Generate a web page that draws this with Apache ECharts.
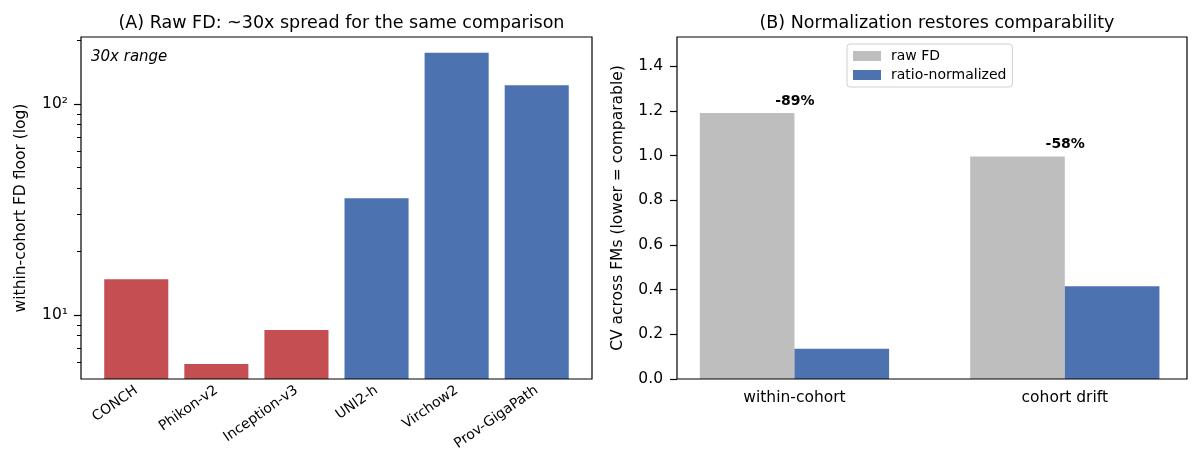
<!DOCTYPE html>
<html>
<head>
<meta charset="utf-8">
<script src="https://cdn.jsdelivr.net/npm/echarts@6/dist/echarts.min.js"></script>
<style>
  html, body { margin: 0; padding: 0; background: #fff; }
  #main { width: 1200px; height: 473px; }
</style>
</head>
<body>
<div id="main"></div>
<script>
// panel A data
const fmNames = ['CONCH', 'Phikon-v2', 'Inception-v3', 'UNI2-h', 'Virchow2', 'Prov-GigaPath'];
const fdFloor = [14.8, 5.87, 8.5, 35.8, 175, 123];
const logMajor = [10, 100];
const logMinor = [6, 7, 8, 9, 20, 30, 40, 50, 60, 70, 80, 90, 200];

// panel B data
const settings = ['within-cohort', 'cohort drift'];
const cvRaw = [1.19, 0.995];
const cvNorm = [0.135, 0.415];
const cvDrop = ['-89%', '-58%'];
const cvTicks = [0, 0.2, 0.4, 0.6, 0.8, 1.0, 1.2, 1.4];

document.addEventListener('DOMContentLoaded', function() {
  var chart = echarts.init(document.getElementById('main'));
  var FONT = 'DejaVu Sans';
  var RED = '#C44E52', BLUE = '#4C72B0', GREY = '#BEBEBE';

  // frame rects (matplotlib axes boxes)
  var A = {l: 81, r: 592}, B = {l: 677, r: 1187};
  var TOP = 37, BOT = 379;
  // category bands vs. frame: matplotlib keeps 5% margins
  var aUnit = (A.r - A.l) / 6.38, aIn = 0.19 * aUnit;   // bands sit inside the frame
  var bUnit = (B.r - B.l) / 1.87, bOut = 0.065 * bUnit; // bands stick out of the frame

  var tick = {color: '#000', width: 1.2};

  var option = {
    animation: false,
    textStyle: {fontFamily: FONT},
    title: [
      {text: '(A) Raw FD: ~30x spread for the same comparison', left: (A.l + A.r) / 2, top: 9, textAlign: 'center',
       textStyle: {fontSize: 17.5, fontWeight: 'normal', color: '#000', fontFamily: FONT}},
      {text: '(B) Normalization restores comparability', left: (B.l + B.r) / 2, top: 9, textAlign: 'center',
       textStyle: {fontSize: 17.5, fontWeight: 'normal', color: '#000', fontFamily: FONT}}
    ],
    graphic: [{
      type: 'text', left: 91, top: 50,
      style: {text: '30x range', fontStyle: 'italic', fontSize: 15, fontFamily: FONT, fill: '#000'}
    }],
    legend: {
      data: ['raw FD', 'ratio-normalized'],
      orient: 'vertical',
      left: 847, top: 44,
      itemWidth: 28, itemHeight: 10, itemGap: 5,
      padding: [5, 6, 5, 6],
      borderColor: '#d0d0d0', borderWidth: 1, borderRadius: 3,
      textStyle: {fontSize: 14, color: '#000', fontFamily: FONT, padding: [0, 0, 0, 5]},
      icon: 'rect'
    },
    grid: [
      {left: A.l + aIn, right: 1200 - A.r + aIn, top: TOP, bottom: 473 - BOT},
      {left: B.l - bOut, right: 1200 - B.r - bOut, top: TOP, bottom: 473 - BOT},
      {left: A.l, right: 1200 - A.r, top: TOP, bottom: 473 - BOT, show: true, borderColor: '#000', borderWidth: 1.2, backgroundColor: 'transparent', z: 5},
      {left: B.l, right: 1200 - B.r, top: TOP, bottom: 473 - BOT, show: true, borderColor: '#000', borderWidth: 1.2, backgroundColor: 'transparent', z: 5}
    ],
    xAxis: [
      {gridIndex: 0, type: 'category', data: fmNames,
       axisLine: {show: false},
       axisTick: {alignWithLabel: true, length: 7, lineStyle: tick},
       axisLabel: {rotate: 35, fontSize: 14, color: '#000', margin: 10, fontFamily: FONT}},
      {gridIndex: 1, type: 'category', data: settings,
       axisLine: {show: false},
       axisTick: {alignWithLabel: true, length: 7, lineStyle: tick},
       axisLabel: {fontSize: 15.5, color: '#000', margin: 11, fontFamily: FONT}},
      {gridIndex: 2, type: 'value', show: false},
      {gridIndex: 3, type: 'value', show: false}
    ],
    yAxis: [
      {gridIndex: 0, type: 'log', logBase: 10, min: 4.98, max: 208, position: 'left', offset: aIn,
       name: 'within-cohort FD floor (log)', nameLocation: 'middle', nameGap: 52,
       nameTextStyle: {fontSize: 15.5, color: '#000', fontFamily: FONT},
       axisLine: {show: false},
       axisTick: {show: true, length: 7, customValues: logMajor, lineStyle: tick},
       axisLabel: {customValues: logMajor, fontSize: 15.5, color: '#000', margin: 13, fontFamily: FONT,
                   formatter: function(v) { return Math.round(Math.log10(v)) === 1 ? '10\u00b9' : '10\u00b2'; }},
       splitLine: {show: false}},
      {gridIndex: 0, type: 'log', logBase: 10, min: 4.98, max: 208, position: 'left', offset: aIn,
       axisLine: {show: false},
       axisTick: {show: true, length: 4, customValues: logMinor, lineStyle: {color: '#000', width: 1}},
       axisLabel: {show: false},
       splitLine: {show: false}},
      {gridIndex: 1, type: 'value', min: 0, max: 1.53, position: 'left', offset: -bOut,
       name: 'CV across FMs (lower = comparable)', nameLocation: 'middle', nameGap: 51,
       nameTextStyle: {fontSize: 15.5, color: '#000', fontFamily: FONT},
       axisLine: {show: false},
       axisTick: {show: true, length: 7, customValues: cvTicks, lineStyle: tick},
       axisLabel: {customValues: cvTicks, fontSize: 15.5, color: '#000', margin: 14, fontFamily: FONT,
                   formatter: function(v) { return v.toFixed(1); }},
       splitLine: {show: false}},
      {gridIndex: 2, type: 'value', show: false},
      {gridIndex: 3, type: 'value', show: false}
    ],
    series: [
      {type: 'bar', xAxisIndex: 0, yAxisIndex: 0, data: fdFloor, barCategoryGap: '20%', clip: true,
       itemStyle: {color: function(p) { return p.dataIndex < 3 ? RED : BLUE; }}},
      {name: 'raw FD', type: 'bar', xAxisIndex: 1, yAxisIndex: 2, data: cvRaw,
       barGap: '0%', barCategoryGap: '30%', itemStyle: {color: GREY},
       label: {show: true, position: 'top', distance: 5, offset: [bUnit * 0.175, 0],
               formatter: function(p) { return cvDrop[p.dataIndex]; },
               fontSize: 14, fontWeight: 'bold', color: '#000', fontFamily: FONT}},
      {name: 'ratio-normalized', type: 'bar', xAxisIndex: 1, yAxisIndex: 2, data: cvNorm,
       barGap: '0%', barCategoryGap: '30%', itemStyle: {color: BLUE}}
    ]
  };
  chart.setOption(option);

  window.addEventListener('resize', function() {
    if (chart) chart.resize();
  });
});
</script>
</body>
</html>
